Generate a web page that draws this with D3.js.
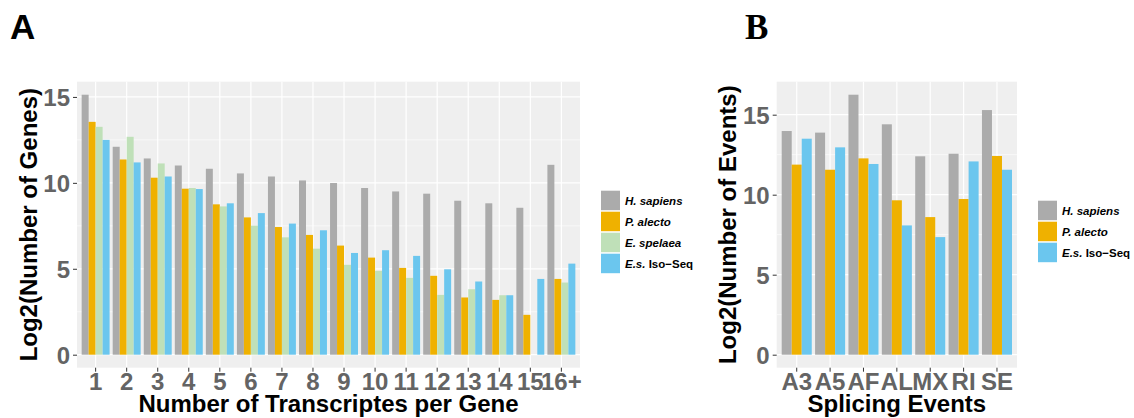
<!DOCTYPE html>
<html>
<head>
<meta charset="utf-8">
<script src="https://cdn.jsdelivr.net/npm/d3@7"></script>
<style>
html,body{margin:0;padding:0;background:#fff;}
svg text{font-family:"Liberation Sans",Arial,sans-serif;}
</style>
</head>
<body>
<svg id="chart" width="1134" height="418"></svg>
<script>
// ---------- DATA ----------
const seriesA = ["H. sapiens", "P. alecto", "E. spelaea", "E.s. Iso-Seq"];
const categoriesA = ["1","2","3","4","5","6","7","8","9","10","11","12","13","14","15","16+"];
const hSapiensA = [15.13,12.1,11.42,11.01,10.82,10.55,10.37,10.14,9.99,9.70,9.50,9.37,8.96,8.81,8.55,11.05];
const pAlectoA  = [13.55,11.36,10.3,9.66,8.75,7.99,7.43,6.97,6.35,5.65,5.05,4.59,3.33,3.19,2.32,4.41];
const eSpelaeaA = [13.26,12.68,11.13,9.7,8.63,7.51,6.83,6.17,5.23,4.88,4.47,3.48,3.81,3.46,null,4.20];
const esIsoSeqA = [12.5,11.19,10.37,9.64,8.81,8.24,7.63,7.24,5.92,6.08,5.75,4.97,4.26,3.46,4.41,5.30];
const yTicksA = [0,5,10,15];

const seriesB = ["H. sapiens", "P. alecto", "E.s. Iso-Seq"];
const categoriesB = ["A3","A5","AF","AL","MX","RI","SE"];
const hSapiensB = [13.98,13.88,16.25,14.4,12.4,12.56,15.29];
const pAlectoB  = [11.88,11.56,12.27,9.65,8.6,9.73,12.42];
const esIsoSeqB = [13.5,12.96,11.92,8.08,7.35,12.08,11.56];
const yTicksB = [0,5,10,15];

const colors = {"H. sapiens":"#ABABAB","P. alecto":"#EFB100","E. spelaea":"#BFE0B8","E.s. Iso-Seq":"#6BC6EE"};

const svg = d3.select("#chart");
svg.append("rect").attr("width",1134).attr("height",418).attr("fill","#fff");

function panel(opt){
  const {x0,x1,y0,y1,cats,series,values,yTicks,yTitle,xTitle,legendX,legendY,yTitleX,label,labelX,labelFont} = opt;
  const g = svg.append("g");
  const x = d3.scaleBand().domain(cats).range([x0,x1]).paddingInner(0).paddingOuter(0.1);
  const allVals = values.flat().filter(v=>v!=null);
  const maxV = d3.max(allVals);
  const y = d3.scaleLinear().domain([-0.05*maxV, 1.05*maxV]).range([y1,y0]);
  // background
  g.append("rect").attr("x",x0).attr("y",y0).attr("width",x1-x0).attr("height",y1-y0).attr("fill","#EFEFEF");
  // minor grid
  const minor = [];
  for(let i=0;i<yTicks.length;i++){ const m = yTicks[i]+2.5; if(m<y.domain()[1]) minor.push(m); }
  g.selectAll(".ming").data(minor).join("line")
    .attr("x1",x0).attr("x2",x1).attr("y1",d=>y(d)).attr("y2",d=>y(d))
    .attr("stroke","#fff").attr("stroke-width",0.6);
  // major grid
  g.selectAll(".majg").data(yTicks).join("line")
    .attr("x1",x0).attr("x2",x1).attr("y1",d=>y(d)).attr("y2",d=>y(d))
    .attr("stroke","#fff").attr("stroke-width",1.2);
  g.selectAll(".vg").data(cats).join("line")
    .attr("x1",d=>x(d)+x.bandwidth()/2).attr("x2",d=>x(d)+x.bandwidth()/2)
    .attr("y1",y0).attr("y2",y1).attr("stroke","#fff").attr("stroke-width",1.2);
  // bars
  const inner = d3.scaleBand().domain(series).range([0, x.bandwidth()*0.9]);
  series.forEach((s,si)=>{
    const vals = values[si];
    g.selectAll(".b"+si).data(cats.map((c,i)=>({c,v:vals[i]})).filter(d=>d.v!=null)).join("rect")
      .attr("x",d=>x(d.c)+x.bandwidth()*0.05+inner(s))
      .attr("width",inner.bandwidth())
      .attr("y",d=>y(d.v))
      .attr("height",d=>y(0)-y(d.v))
      .attr("fill",colors[s]);
  });
  // y axis
  const yAxis = d3.axisLeft(y).tickValues(yTicks).tickSize(4).tickPadding(3).tickFormat(d3.format("d"));
  const ya = g.append("g").attr("transform",`translate(${x0},0)`).call(yAxis);
  ya.select(".domain").remove();
  ya.selectAll("line").attr("stroke","#333");
  ya.selectAll("text").attr("fill","#646464").style("font-size","24px").style("font-weight","bold")
    .attr("dy","0.36em");
  // x axis
  const xAxis = d3.axisBottom(x).tickSize(4).tickPadding(1);
  const xa = g.append("g").attr("transform",`translate(0,${y1})`).call(xAxis);
  xa.select(".domain").remove();
  xa.selectAll("line").attr("stroke","#333");
  xa.selectAll("text").attr("fill","#646464").style("font-size","24px").style("font-weight","bold");
  // titles
  g.append("text").attr("transform",`translate(${yTitleX},${(y0+y1)/2}) rotate(-90)`)
    .attr("text-anchor","middle").attr("dy","0.36em")
    .style("font-size","24px").style("font-weight","bold").attr("fill","#000").text(yTitle);
  g.append("text").attr("x",(x0+x1)/2).attr("y",412).attr("text-anchor","middle")
    .style("font-size","24px").style("font-weight","bold").attr("fill","#000").text(xTitle);
  // legend
  const lg = g.append("g").attr("transform",`translate(${legendX},${legendY})`);
  series.forEach((s,i)=>{
    const row = lg.append("g").attr("transform",`translate(0,${i*21})`);
    row.append("rect").attr("width",19).attr("height",19.5).attr("fill",colors[s]);
    const t = row.append("text").attr("x",24).attr("y",14).style("font-size","11.5px").style("font-weight","bold").attr("fill","#000");
    if(s==="E.s. Iso-Seq"){
      t.append("tspan").style("font-style","italic").text("E.s.");
      t.append("tspan").text(" Iso\u2212Seq");
    } else {
      t.style("font-style","italic").text(s);
    }
  });
  // panel label
  svg.append("text").attr("x",labelX).attr("y",39).style("font-size","35px").style("font-weight","bold")
    .style("font-family",labelFont).attr("fill","#000").text(label);
}

panel({x0:77,x1:580,y0:81.7,y1:367.7,cats:categoriesA,series:seriesA,
  values:[hSapiensA,pAlectoA,eSpelaeaA,esIsoSeqA],yTicks:yTicksA,
  yTitle:"Log2(Number of Genes)",xTitle:"Number of Transcriptes per Gene",
  legendX:601,legendY:190.7,yTitleX:28,label:"A",labelX:10,labelFont:"'Liberation Sans',Arial,sans-serif"});

panel({x0:776.7,x1:1017,y0:81.7,y1:367.7,cats:categoriesB,series:seriesB,
  values:[hSapiensB,pAlectoB,esIsoSeqB],yTicks:yTicksB,
  yTitle:"Log2(Number of Events)",xTitle:"Splicing Events",
  legendX:1038,legendY:200.7,yTitleX:727,label:"B",labelX:745,labelFont:"'Liberation Serif','Times New Roman',serif"});
</script>
</body>
</html>
